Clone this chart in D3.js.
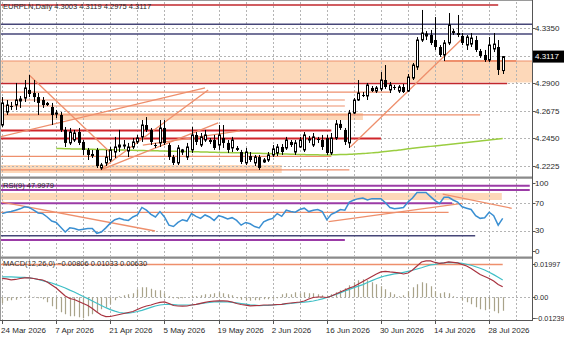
<!DOCTYPE html>
<html>
<head>
<meta charset="utf-8">
<script src="https://cdn.jsdelivr.net/npm/d3@7"></script>
<style>
body { margin: 0; background: #fff; }
svg { display: block; font-family: "Liberation Sans", Arial, sans-serif; }
</style>
</head>
<body>
<div id="chart"></div>
<script>
// ---- data ----
var symbol = "EURPLN,Daily";
var dateTicks = ["2026-03-24","2026-04-07","2026-04-21","2026-05-05","2026-05-19","2026-06-02","2026-06-16","2026-06-30","2026-07-14","2026-07-28"];
var priceTicks = [4.3350, 4.3125, 4.2900, 4.2675, 4.2450, 4.2225];
var rsiTicks = [100, 70, 30, 0];
var macdTicks = [0.01997, 0.00, -0.01239];

var open = [4.2559,4.2665,4.2714,4.2722,4.2755,4.2779,4.2845,4.2820,4.2787,4.2763,
  4.2739,4.2706,4.2649,4.2641,4.2519,4.2413,4.2437,4.2502,4.2421,4.2356,
  4.2323,4.2356,4.2209,4.2250,4.2274,4.2339,4.2380,4.2388,4.2347,4.2380,
  4.2421,4.2462,4.2559,4.2519,4.2396,4.2413,4.2535,4.2396,4.2298,4.2250,
  4.2339,4.2298,4.2356,4.2478,4.2396,4.2437,4.2437,4.2437,4.2396,4.2453,
  4.2413,4.2372,4.2372,4.2339,4.2250,4.2306,4.2250,4.2298,4.2258,4.2274,
  4.2315,4.2331,4.2380,4.2372,4.2421,4.2339,4.2380,4.2356,4.2437,4.2396,
  4.2445,4.2437,4.2453,4.2331,4.2453,4.2568,4.2519,4.2413,4.2657,4.2763,
  4.2804,4.2796,4.2861,4.2836,4.2853,4.2926,4.2845,4.2869,4.2836,4.2869,
  4.2836,4.2942,4.3032,4.3252,4.3285,4.3293,4.3252,4.3195,4.3130,4.3228,
  4.3325,4.3309,4.3285,4.3211,4.3219,4.3252,4.3162,4.3130,4.3089,4.3179,
  4.3195,4.3003];
var high = [4.2787,4.2763,4.2747,4.2902,4.2796,4.2926,4.2967,4.2926,4.2820,4.2787,
  4.2747,4.2739,4.2682,4.2665,4.2543,4.2535,4.2519,4.2535,4.2437,4.2372,
  4.2356,4.2372,4.2250,4.2356,4.2380,4.2462,4.2519,4.2437,4.2413,4.2453,
  4.2478,4.2600,4.2624,4.2535,4.2413,4.2600,4.2600,4.2413,4.2315,4.2396,
  4.2364,4.2413,4.2543,4.2502,4.2494,4.2519,4.2453,4.2478,4.2559,4.2559,
  4.2437,4.2462,4.2388,4.2356,4.2372,4.2339,4.2315,4.2315,4.2290,4.2339,
  4.2396,4.2404,4.2404,4.2462,4.2437,4.2437,4.2462,4.2502,4.2470,4.2494,
  4.2462,4.2478,4.2478,4.2494,4.2600,4.2600,4.2535,4.2682,4.2779,4.2926,
  4.2828,4.2902,4.2877,4.2877,4.2991,4.3048,4.2910,4.2885,4.2885,4.2894,
  4.2975,4.3065,4.3276,4.3497,4.3325,4.3334,4.3439,4.3211,4.3252,4.3472,
  4.3342,4.3456,4.3309,4.3293,4.3309,4.3285,4.3179,4.3171,4.3276,4.3309,
  4.3252,4.3119];
var low = [4.2543,4.2641,4.2682,4.2682,4.2698,4.2747,4.2787,4.2747,4.2641,4.2698,
  4.2714,4.2559,4.2616,4.2502,4.2380,4.2396,4.2421,4.2396,4.2315,4.2274,
  4.2290,4.2209,4.2193,4.2225,4.2258,4.2290,4.2339,4.2364,4.2298,4.2364,
  4.2404,4.2421,4.2502,4.2396,4.2372,4.2380,4.2396,4.2274,4.2233,4.2233,
  4.2315,4.2274,4.2331,4.2396,4.2380,4.2421,4.2404,4.2356,4.2356,4.2372,
  4.2331,4.2339,4.2347,4.2241,4.2233,4.2258,4.2225,4.2193,4.2250,4.2258,
  4.2298,4.2306,4.2315,4.2356,4.2380,4.2315,4.2372,4.2339,4.2413,4.2380,
  4.2413,4.2356,4.2315,4.2315,4.2437,4.2519,4.2396,4.2372,4.2649,4.2755,
  4.2787,4.2763,4.2828,4.2820,4.2836,4.2853,4.2820,4.2845,4.2820,4.2820,
  4.2828,4.2926,4.3008,4.3236,4.3252,4.3211,4.3171,4.3114,4.3081,4.3211,
  4.3293,4.3276,4.3211,4.3171,4.3195,4.3154,4.3106,4.3073,4.3073,4.3154,
  4.2967,4.2975];
var close = [4.2739,4.2722,4.2706,4.2763,4.2771,4.2861,4.2812,4.2787,4.2739,4.2722,
  4.2722,4.2641,4.2657,4.2519,4.2413,4.2502,4.2494,4.2413,4.2356,4.2315,
  4.2306,4.2225,4.2233,4.2298,4.2356,4.2380,4.2396,4.2396,4.2380,4.2421,
  4.2453,4.2559,4.2519,4.2421,4.2388,4.2535,4.2413,4.2298,4.2250,4.2372,
  4.2356,4.2380,4.2478,4.2421,4.2462,4.2478,4.2421,4.2372,4.2478,4.2413,
  4.2356,4.2437,4.2356,4.2258,4.2339,4.2274,4.2298,4.2209,4.2274,4.2315,
  4.2364,4.2380,4.2339,4.2437,4.2396,4.2413,4.2437,4.2478,4.2445,4.2462,
  4.2437,4.2380,4.2331,4.2453,4.2568,4.2535,4.2421,4.2657,4.2763,4.2820,
  4.2796,4.2885,4.2836,4.2861,4.2926,4.2869,4.2885,4.2861,4.2869,4.2828,
  4.2950,4.3048,4.3252,4.3309,4.3301,4.3228,4.3195,4.3130,4.3228,4.3374,
  4.3309,4.3293,4.3228,4.3276,4.3268,4.3171,4.3122,4.3089,4.3211,4.3219,
  4.3008,4.3117];

// green moving average, starts at bar 12
var maStart = 12;
var maValues = [4.2368,4.2367,4.2366,4.2365,4.2364,4.2364,4.2363,4.2362,4.2361,4.2360,
  4.2359,4.2358,4.2357,4.2357,4.2356,4.2355,4.2354,4.2353,4.2352,4.2351,
  4.2350,4.2350,4.2349,4.2348,4.2347,4.2346,4.2345,4.2344,4.2343,4.2343,
  4.2342,4.2341,4.2340,4.2339,4.2338,4.2337,4.2336,4.2336,4.2335,4.2334,
  4.2333,4.2332,4.2331,4.2330,4.2329,4.2328,4.2327,4.2326,4.2325,4.2324,
  4.2323,4.2322,4.2321,4.2320,4.2319,4.2318,4.2317,4.2316,4.2316,4.2315,
  4.2315,4.2316,4.2317,4.2318,4.2319,4.2320,4.2322,4.2324,4.2326,4.2329,
  4.2332,4.2335,4.2339,4.2343,4.2347,4.2351,4.2355,4.2360,4.2365,4.2369,
  4.2373,4.2377,4.2381,4.2385,4.2389,4.2393,4.2397,4.2401,4.2405,4.2409,
  4.2413,4.2417,4.2421,4.2425,4.2429,4.2433,4.2437,4.2441,4.2445,4.2449];

var rsi = [55,57,58,60,62,65,64,60,56,55, 50,44,42,35,28,34,33,31,32,33,
  33,26,28,34,41,46,48,46,45,50, 53,64,60,54,50,58,50,38,36,42,
  46,44,55,51,48,53,50,45,52,50, 47,49,45,38,42,40,36,34,43,46,
  48,55,51,60,58,57,61,63,58,60, 61,58,46,54,57,61,60,72,75,77,
  78,75,77,77,77,71,64,62,63,64, 72,78,86,86,86,80,74,70,79,79,
  75,72,65,63,61,52,48,49,57,52, 38,47.9979];

var macdMain = [0.0113,0.0110,0.0105,0.0107,0.0113,0.0116,0.0117,0.0113,0.0108,0.0104,
  0.0092,0.0074,0.0056,0.0032,0.0008,-0.0007,-0.0013,-0.0025,-0.0037,-0.0049,
  -0.0067,-0.0088,-0.0106,-0.0116,-0.0115,-0.0109,-0.0103,-0.0097,-0.0091,-0.0085,
  -0.0073,-0.0061,-0.0052,-0.0046,-0.0037,-0.0030,-0.0027,-0.0037,-0.0049,-0.0052,
  -0.0053,-0.0052,-0.0046,-0.0042,-0.0036,-0.0030,-0.0025,-0.0023,-0.0021,-0.0021,
  -0.0023,-0.0028,-0.0037,-0.0043,-0.0047,-0.0051,-0.0050,-0.0049,-0.0046,-0.0046,
  -0.0045,-0.0043,-0.0042,-0.0037,-0.0034,-0.0031,-0.0028,-0.0022,-0.0010,-0.0001,
  0.0002,0.0002,-0.0001,0.0008,0.0020,0.0032,0.0044,0.0056,0.0065,0.0080,
  0.0095,0.0110,0.0125,0.0140,0.0152,0.0155,0.0152,0.0150,0.0146,0.0140,
  0.0146,0.0164,0.0188,0.0212,0.0218,0.0218,0.0209,0.0203,0.0206,0.0212,
  0.0209,0.0206,0.0197,0.0188,0.0173,0.0155,0.0137,0.0125,0.0113,0.0098,
  0.0077,0.0063];
var macdSignal = [0.0123,0.0123,0.0122,0.0121,0.0120,0.0119,0.0117,0.0113,0.0107,0.0100,
  0.0093,0.0086,0.0076,0.0066,0.0056,0.0043,0.0032,0.0018,0.0005,-0.0008,
  -0.0022,-0.0036,-0.0049,-0.0062,-0.0074,-0.0083,-0.0091,-0.0095,-0.0095,-0.0091,
  -0.0085,-0.0078,-0.0069,-0.0060,-0.0052,-0.0046,-0.0043,-0.0042,-0.0044,-0.0046,
  -0.0046,-0.0046,-0.0046,-0.0043,-0.0038,-0.0034,-0.0031,-0.0028,-0.0026,-0.0027,
  -0.0028,-0.0030,-0.0033,-0.0037,-0.0041,-0.0045,-0.0047,-0.0050,-0.0049,-0.0048,
  -0.0046,-0.0044,-0.0042,-0.0039,-0.0037,-0.0034,-0.0031,-0.0029,-0.0026,-0.0022,
  -0.0016,-0.0009,-0.0001,0.0008,0.0017,0.0027,0.0038,0.0048,0.0058,0.0067,
  0.0076,0.0089,0.0100,0.0111,0.0121,0.0129,0.0135,0.0140,0.0144,0.0150,
  0.0156,0.0162,0.0170,0.0177,0.0186,0.0194,0.0198,0.0203,0.0206,0.0209,
  0.0208,0.0206,0.0203,0.0198,0.0192,0.0183,0.0174,0.0164,0.0150,0.0136,
  0.0120,0.01033];
var macdHist = [-0.0036,-0.0021,-0.0018,-0.0015,-0.0006,0.0003,0.0006,0.0003,-0.0006,-0.0012,
  -0.0030,-0.0054,-0.0072,-0.0090,-0.0102,-0.0114,-0.0114,-0.0120,-0.0126,-0.0114,
  -0.0102,-0.0090,-0.0072,-0.0060,-0.0042,-0.0018,0.0006,0.0012,0.0018,0.0024,
  0.0048,0.0060,0.0060,0.0051,0.0042,0.0042,0.0024,0.0006,-0.0006,-0.0009,
  -0.0006,0.0000,0.0009,0.0006,0.0012,0.0018,0.0018,0.0024,0.0030,0.0024,
  0.0018,0.0012,-0.0006,-0.0015,-0.0018,-0.0021,-0.0018,-0.0018,-0.0012,-0.0012,
  -0.0009,-0.0006,0.0018,0.0024,0.0018,0.0030,0.0024,0.0030,0.0024,0.0024,
  0.0018,0.0012,0.0009,0.0018,0.0030,0.0042,0.0054,0.0072,0.0090,0.0102,
  0.0108,0.0102,0.0090,0.0078,0.0066,0.0048,0.0030,0.0018,0.0006,0.0012,
  0.0036,0.0060,0.0078,0.0090,0.0084,0.0066,0.0036,0.0024,0.0030,0.0024,
  0.0006,0.0000,-0.0018,-0.0030,-0.0042,-0.0060,-0.0072,-0.0078,-0.0072,-0.0084,
  -0.0096,-0.00806];

// drawn objects: price level, end bar (null = to the edge), kind
var levelPrices = [4.3537, 4.3380, 4.3301, 4.3081, 4.2898, 4.2828, 4.2763, 4.2714, 4.2641, 4.2514, 4.2449, 4.2303, 4.2193];
var levelEnds   = [110,    null,   null,   null,   112,    86,     76,     76,     106,    73,     84,     73,     77];
var levelKinds  = ["red", "navy", "navy", "salmon", "red", "salmon", "salmon", "salmon", "salmon", "redBold", "redBold", "salmon", "salmon"];
var zoneTops    = [4.3081, 4.2657, 4.2233];
var zoneBottoms = [4.2906, 4.2600, 4.2168];
var zoneEnds    = [null, 80, 62];
var trendFrom = [[6, 4.2967], [-0.5, 4.2462], [21.7, 4.2193], [21.9, 4.2193], [31.2, 4.2396], [77.2, 4.2380], [98, 4.3081]];
var trendTo   = [[23.9, 4.2339], [45, 4.2861], [45.7, 4.2845], [47.9, 4.2576], [52.7, 4.2511], [102.2, 4.3268], [114, 4.3081]];

var rsiLevelValues = [96, 89.7, 70.1, 56.9, 22.5, 16.2];
var rsiLevelEnds   = [117, 117, 99.8, 99, 104.9, 76];
var rsiLevelKinds  = ["purple", "purple", "purple", "salmon", "navy", "purple"];
var rsiZone = [85.3, 75, 110.8];
var rsiTrendFrom = [[0, 72], [72.4, 43.1], [97.7, 83.8]];
var rsiTrendTo   = [[33.9, 29.4], [102, 70.1], [113, 62.8]];
var macdLevel = [0.01965, 111];

// ---- layout ----
var W = 564, H = 338;
var axisX = 532.5;
var main = {top: 2, bottom: 176.5};
var rsiP = {top: 179, bottom: 256.5};
var macdP = {top: 259, bottom: 320};

var styles = {
	red:     {stroke: "#c1272d", width: 1.5},
	redBold: {stroke: "#d0262b", width: 2},
	navy:    {stroke: "#464678", width: 1.5},
	salmon:  {stroke: "#ee8f6c", width: 1.2},
	purple:  {stroke: "#9b3ba6", width: 2}
};

var parseDay = d3.timeParse("%Y-%m-%d");
var fmtDay = d3.timeFormat("%Y-%m-%d");
var fmtLabel = d3.timeFormat("%-d %b %Y");
// bars: every day except Saturday (broker has Sunday bars)
var dates = d3.timeDay.range(new Date(2026, 2, 24), new Date(2026, 7, 1)).filter(function(d){ return d.getDay() !== 6; });

var x = d3.scaleLinear().domain([0, dates.length - 1]).range([2.1, 502.7]);
var yP = d3.scaleLinear().domain([4.2225, 4.3350]).range([166, 28]);
var yR = d3.scaleLinear().domain([0, 100]).range([251, 183]);
var yM = d3.scaleLinear().domain([-0.01239, 0.01997]).range([318, 264]);
var leftIdx = x.invert(0), rightIdx = x.invert(axisX);

var svg = d3.select("#chart").append("svg")
	.attr("width", W)
	.attr("height", H);

var defs = svg.append("defs");
function clip(id, p) {
	defs.append("clipPath").attr("id", id)
		.append("rect").attr("x", 0).attr("y", p.top).attr("width", axisX).attr("height", p.bottom - p.top);
}
clip("clipMain", main);
clip("clipRsi", rsiP);
clip("clipMacd", macdP);

var gMain = svg.append("g").attr("clip-path", "url(#clipMain)");
var gRsi = svg.append("g").attr("clip-path", "url(#clipRsi)");
var gMacd = svg.append("g").attr("clip-path", "url(#clipMacd)");

function hline(g, yv, i0, i1, st) {
	g.append("line")
		.attr("x1", x(i0 == null ? leftIdx : i0)).attr("x2", x(i1 == null ? rightIdx : i1))
		.attr("y1", yv).attr("y2", yv)
		.attr("stroke", st.stroke).attr("stroke-width", st.width);
}
function seg(g, x1, y1, x2, y2, color, w) {
	g.append("line").attr("x1", x1).attr("y1", y1).attr("x2", x2).attr("y2", y2)
		.attr("stroke", color).attr("stroke-width", w || 1.2);
}

// ---- peach zones (background) ----
zoneTops.forEach(function(t, k) {
	var x0 = x(leftIdx), x1 = x(zoneEnds[k] == null ? rightIdx : zoneEnds[k]);
	gMain.append("rect")
		.attr("x", x0).attr("y", yP(t))
		.attr("width", x1 - x0).attr("height", yP(zoneBottoms[k]) - yP(t))
		.attr("fill", "#fdd8b9");
});
var rz0 = x(leftIdx), rz1 = x(rsiZone[2]);
gRsi.append("rect").attr("x", rz0).attr("y", yR(rsiZone[0]))
	.attr("width", rz1 - rz0).attr("height", yR(rsiZone[1]) - yR(rsiZone[0]))
	.attr("fill", "#fdd8b9");

// ---- grid ----
var gridIdx = d3.range(0, rightIdx, 6); // Tuesdays
[[gMain, main], [gRsi, rsiP], [gMacd, macdP]].forEach(function(pair) {
	pair[0].selectAll(null).data(gridIdx).enter().append("line")
		.attr("x1", function(i){ return Math.round(x(i)) + 0.5; })
		.attr("x2", function(i){ return Math.round(x(i)) + 0.5; })
		.attr("y1", pair[1].top).attr("y2", pair[1].bottom)
		.attr("stroke", "#b4b4b4").attr("stroke-dasharray", "2,2");
});
gMain.selectAll(null).data(priceTicks).enter().append("line")
	.attr("x1", 0).attr("x2", axisX)
	.attr("y1", function(v){ return Math.round(yP(v)) + 0.5; })
	.attr("y2", function(v){ return Math.round(yP(v)) + 0.5; })
	.attr("stroke", "#b4b4b4").attr("stroke-dasharray", "2,2");
[70, 30].forEach(function(v) {
	gRsi.append("line").attr("x1", 0).attr("x2", axisX)
		.attr("y1", Math.round(yR(v)) + 0.5).attr("y2", Math.round(yR(v)) + 0.5)
		.attr("stroke", "#b4b4b4").attr("stroke-dasharray", "2,2");
});
gMacd.append("line").attr("x1", 0).attr("x2", axisX)
	.attr("y1", Math.round(yM(0)) + 0.5).attr("y2", Math.round(yM(0)) + 0.5)
	.attr("stroke", "#b4b4b4").attr("stroke-dasharray", "2,2");

// ---- main panel objects ----
levelPrices.forEach(function(p, k) {
	hline(gMain, yP(p), null, levelEnds[k], styles[levelKinds[k]]);
});

var ma = d3.line()
	.x(function(d, k){ return x(maStart + k); })
	.y(function(d){ return yP(d); })
	.curve(d3.curveMonotoneX);
gMain.append("path").attr("d", ma(maValues))
	.attr("fill", "none").attr("stroke", "#9acd40").attr("stroke-width", 1.5);

trendFrom.forEach(function(a, k) {
	var b = trendTo[k];
	seg(gMain, x(a[0]), yP(a[1]), x(b[0]), yP(b[1]), "#ee8f6c", k === 6 ? 2 : 1.3);
});

// candles
var bars = gMain.selectAll("g.bar").data(d3.range(dates.length)).enter().append("g").attr("class", "bar");
bars.append("line")
	.attr("x1", function(i){ return Math.round(x(i)) + 0.5; })
	.attr("x2", function(i){ return Math.round(x(i)) + 0.5; })
	.attr("y1", function(i){ return yP(high[i]); })
	.attr("y2", function(i){ return yP(low[i]); })
	.attr("stroke", "#000").attr("stroke-width", 1);
bars.append("rect")
	.attr("x", function(i){ return close[i] >= open[i] ? Math.round(x(i)) - 1 + 0.5 : Math.round(x(i)) - 1; })
	.attr("width", function(i){ return close[i] >= open[i] ? 2 : 3; })
	.attr("y", function(i){ return yP(Math.max(open[i], close[i])); })
	.attr("height", function(i){ return Math.max(1, Math.abs(yP(open[i]) - yP(close[i]))); })
	.attr("fill", function(i){ return close[i] >= open[i] ? "#fff" : "#000"; })
	.attr("stroke", function(i){ return close[i] >= open[i] ? "#000" : "none"; })
	.attr("stroke-width", 1);

// ---- RSI panel ----
rsiLevelValues.forEach(function(v, k) {
	hline(gRsi, yR(v), null, rsiLevelEnds[k], styles[rsiLevelKinds[k]]);
});
rsiTrendFrom.forEach(function(a, k) {
	var b = rsiTrendTo[k];
	seg(gRsi, x(a[0]), yR(a[1]), x(b[0]), yR(b[1]), "#ee8f6c", 1.3);
});
var rsiLine = d3.line().x(function(d, i){ return x(i); }).y(function(d){ return yR(d); });
gRsi.append("path").attr("d", rsiLine(rsi))
	.attr("fill", "none").attr("stroke", "#3a8fd2").attr("stroke-width", 1.5);

// ---- MACD panel ----
hline(gMacd, yM(macdLevel[0]), null, macdLevel[1], {stroke: "#ee8f6c", width: 1.5});
gMacd.selectAll(null).data(macdHist).enter().append("line")
	.attr("x1", function(d, i){ return Math.round(x(i)) + 0.5; })
	.attr("x2", function(d, i){ return Math.round(x(i)) + 0.5; })
	.attr("y1", yM(0))
	.attr("y2", function(d){ return yM(d); })
	.attr("stroke", "#a9a38a").attr("stroke-width", 1.2);
var mLine = d3.line().x(function(d, i){ return x(i); }).y(function(d){ return yM(d); });
gMacd.append("path").attr("d", mLine(macdSignal))
	.attr("fill", "none").attr("stroke", "#3fbfc6").attr("stroke-width", 1.2);
gMacd.append("path").attr("d", mLine(macdMain))
	.attr("fill", "none").attr("stroke", "#a8323f").attr("stroke-width", 1.2);

// ---- frames ----
svg.append("line").attr("x1", 0).attr("x2", axisX).attr("y1", 0.5).attr("y2", 0.5).attr("stroke", "#9a9a9a");
svg.append("line").attr("x1", 0.5).attr("x2", 0.5).attr("y1", 0).attr("y2", macdP.bottom).attr("stroke", "#9a9a9a");
[main.bottom + 1.2, rsiP.bottom + 1.2].forEach(function(yy) {
	svg.append("line").attr("x1", 0).attr("x2", axisX).attr("y1", yy).attr("y2", yy)
		.attr("stroke", "#8a8a8a").attr("stroke-width", 2.2);
});
svg.append("line").attr("x1", 0).attr("x2", axisX).attr("y1", macdP.bottom + 0.5).attr("y2", macdP.bottom + 0.5).attr("stroke", "#555");
svg.append("line").attr("x1", axisX).attr("x2", axisX).attr("y1", 0).attr("y2", macdP.bottom + 1).attr("stroke", "#555");

// ---- texts ----
var txt = svg.append("g").attr("fill", "#2a2a2a");
txt.append("text").attr("x", 3).attr("y", 9).attr("font-size", "7.5px")
	.text(symbol + "  " + d3.format(".4f")(open[111]) + " " + d3.format(".4f")(high[111]) + " " + d3.format(".4f")(low[111]) + " " + d3.format(".4f")(close[111]));
txt.append("text").attr("x", 3).attr("y", 187.5).attr("font-size", "7.5px")
	.text("RSI(9) " + d3.format(".4f")(rsi[rsi.length - 1]));
txt.append("text").attr("x", 3).attr("y", 266).attr("font-size", "7.5px")
	.text("MACD(12,26,0) " + d3.format(".5f")(macdHist[111]) + " " + d3.format(".5f")(macdSignal[111]) + " " + d3.format(".5f")(macdMain[111]));

function axisLabels(ticks, scale, fmt, size, x0) {
	ticks.forEach(function(v) {
		var yy = scale(v);
		svg.append("line").attr("x1", axisX).attr("x2", axisX + 3).attr("y1", Math.round(yy) + 0.5).attr("y2", Math.round(yy) + 0.5).attr("stroke", "#555");
		txt.append("text").attr("x", x0).attr("y", yy).attr("dy", "0.35em")
			.attr("font-size", size).text(fmt(v));
	});
}
axisLabels(priceTicks, yP, d3.format(".4f"), "8px", 535);
axisLabels(rsiTicks, yR, d3.format("d"), "8px", 535);
axisLabels(macdTicks, yM, function(v){ return v === 0 ? "0.00" : d3.format(".5f")(v); }, "7.3px", 534);

// current price box
var lastY = yP(close[111]);
svg.append("rect").attr("x", 533).attr("y", lastY - 6).attr("width", 31).attr("height", 12).attr("fill", "#000");
svg.append("text").attr("x", 535).attr("y", lastY).attr("dy", "0.35em")
	.attr("font-size", "8px").attr("fill", "#fff").text(d3.format(".4f")(close[111]));

// date axis
dateTicks.forEach(function(s) {
	var i = dates.findIndex(function(d){ return fmtDay(d) === s; });
	var xx = Math.round(x(i)) + 0.5;
	svg.append("line").attr("x1", xx).attr("x2", xx).attr("y1", macdP.bottom).attr("y2", macdP.bottom + 4).attr("stroke", "#555");
	txt.append("text").attr("x", x(i) - 1).attr("y", 333).attr("font-size", "8px")
		.text(fmtLabel(parseDay(s)));
});
</script>
</body>
</html>
